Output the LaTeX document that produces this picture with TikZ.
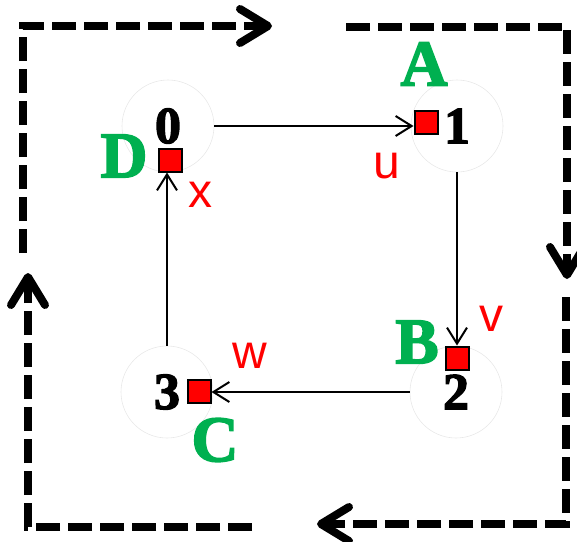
\documentclass[tikz,border=0pt]{standalone}
\usepackage{fontspec}
\usetikzlibrary{arrows.meta}
\newfontfamily\ringfont{Liberation Serif}[BoldFeatures={FakeBold=2.5}]
\newfontfamily\edgefont{Liberation Sans}
\definecolor{stategreen}{HTML}{00B050}
\definecolor{tokenred}{HTML}{FF0000}
\definecolor{ringgray}{HTML}{E8E8E8}

\begin{document}
\begin{tikzpicture}[x=1pt, y=-1pt, >={Straight Barb[length=16pt,width=20pt]},
    ring/.style={circle, draw=ringgray, line width=0.6pt, minimum size=92pt, inner sep=0pt,
      font=\fontsize{52}{52}\selectfont\ringfont\bfseries},
    token/.style={draw=black, fill=tokenred, line width=2pt, minimum size=23pt, inner sep=0pt},
    statetag/.style={text=stategreen, inner sep=0pt, font=\fontsize{65}{65}\selectfont\ringfont\bfseries},
    edgetag/.style={text=tokenred, inner sep=0pt, font=\fontsize{48}{48}\selectfont\edgefont},
    flow/.style={->, line width=2pt},
    cycleline/.style={line width=8pt, dash pattern=on 24pt off 8pt,
      -{Straight Barb[length=28pt,width=34pt,round]}}]
  \useasboundingbox (0,0) rectangle (577,541);

  % rings with their numbers
  \foreach \n/\p in {0/{168,126}, 1/{457,126}, 2/{456,392}, 3/{167,392}}
    \node[ring] (n\n) at (\p) {\n};

  % red tokens
  \foreach \n/\p in {0/{170,160}, 1/{426,122}, 2/{457,358}, 3/{199,391}}
    \node[token] (s\n) at (\p) {};

  % green state letters
  \foreach \n/\l/\p in {a/A/{424,64}, b/B/{417,342}, c/C/{215,440}, d/D/{124,156}}
    \node[statetag] (t\n) at (\p) {\l};

  % red edge letters
  \foreach \l/\p in {u/{387,166}, v/{491,319}, w/{250,356}, x/{200,195}}
    \node[edgetag] (e\l) at (\p) {\l};

  % transitions between the rings
  \draw[flow] (n0.east) -- (n0.east -| s1.west);
  \draw[flow] (n1.south) -- (s2.north);
  \draw[flow] (n2.west) -- (n2.west -| s3.east);
  \draw[flow] (n3.north) -- (n3.north |- s0.south);

  % outer dashed cycle, four pieces
  \coordinate (p1) at (23,253);  \coordinate (c1) at (23,26);   \coordinate (q1) at (272,26);
  \coordinate (p2) at (346,27);  \coordinate (c2) at (567,27);  \coordinate (q2) at (567,279);
  \coordinate (p3) at (566,297); \coordinate (c3) at (566,524); \coordinate (q3) at (317,524);
  \coordinate (p4) at (252,527); \coordinate (c4) at (28,527);  \coordinate (q4) at (28,273);
  \foreach \k in {1,2,3,4}
    \draw[cycleline] (p\k) -- (c\k) -- (q\k);
\end{tikzpicture}
\end{document}
